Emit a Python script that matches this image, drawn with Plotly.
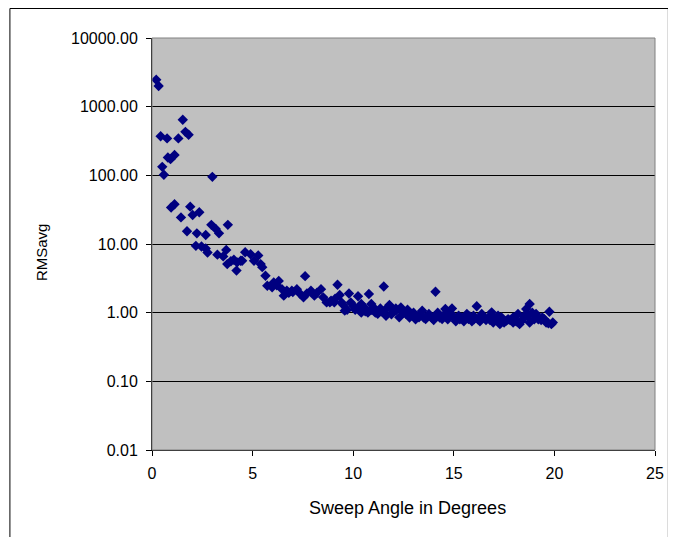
import plotly.graph_objects as go

sweep_angle = [
    0.21, 0.33, 0.43, 0.51, 0.59, 0.75, 0.79, 0.92, 0.95, 1.12, 1.12, 1.31, 1.44, 1.53, 1.66,
    1.74, 1.82, 1.90, 2.02, 2.18, 2.23, 2.35, 2.46, 2.67, 2.67, 2.76, 2.95, 3.00, 3.17, 3.25,
    3.33, 3.54, 3.69, 3.74, 3.77, 3.92, 4.07, 4.20, 4.23, 4.41, 4.48, 4.63, 4.90, 5.07, 5.28,
    5.40, 5.48, 5.64, 5.73, 5.97, 6.05, 6.20, 6.30, 6.46, 6.55, 6.70, 6.80, 6.95, 7.00, 7.20,
    7.37, 7.53, 7.61, 7.70, 7.90, 8.07, 8.20, 8.40, 8.51, 8.68, 8.84, 8.90, 9.06, 9.10, 9.22,
    9.33, 9.42, 9.50, 9.58, 9.70, 9.79, 9.88, 10.00, 10.10, 10.24, 10.30, 10.40, 10.40, 10.56,
    10.60, 10.73, 10.78, 10.90, 10.90, 11.06, 11.10, 11.22, 11.35, 11.40, 11.52, 11.63, 11.63,
    11.80, 11.90, 11.96, 12.00, 12.12, 12.12, 12.29, 12.37, 12.50, 12.62, 12.70, 12.80, 12.94,
    13.00, 13.10, 13.27, 13.30, 13.43, 13.50, 13.60, 13.76, 13.90, 14.00, 14.09, 14.09, 14.20,
    14.30, 14.42, 14.50, 14.58, 14.70, 14.75, 14.80, 14.91, 15.00, 15.07, 15.10, 15.24, 15.30,
    15.40, 15.50, 15.65, 15.73, 15.80, 15.90, 15.98, 16.00, 16.14, 16.20, 16.30, 16.39, 16.50,
    16.60, 16.72, 16.80, 16.88, 16.96, 17.00, 17.10, 17.20, 17.29, 17.37, 17.50, 17.62, 17.70,
    17.80, 17.95, 17.95, 18.00, 18.10, 18.19, 18.27, 18.35, 18.44, 18.50, 18.60, 18.70, 18.77,
    18.77, 18.90, 19.00, 19.09, 19.20, 19.34, 19.40, 19.50, 19.59, 19.70, 19.75, 19.85, 19.92,
]
rms_avg = [
    2460, 2000, 370, 133, 102, 345, 182, 172, 34, 198, 38, 345, 24.4, 645, 430,
    15.3, 390, 35, 26.5, 9.4, 14.3, 29, 9.2, 13.5, 8.6, 7.5, 19, 95, 16.6, 7.0,
    14.3, 6.6, 8.2, 5.1, 19, 5.6, 5.9, 4.1, 5.4, 5.7, 5.7, 7.6, 7.1, 5.7, 6.8,
    5.1, 4.6, 3.45, 2.47, 2.34, 2.76, 2.5, 2.9, 2.2, 1.77, 2.09, 1.95, 2.09, 2.0, 2.2,
    1.87, 1.67, 3.4, 1.9, 2.09, 1.77, 1.95, 2.2, 1.67, 1.41, 1.41, 1.5, 1.41, 1.6, 2.55,
    1.81, 1.41, 1.3, 1.07, 1.1, 1.9, 1.41, 1.26, 1.1, 1.73, 1.2, 1.34, 1.0, 1.19,
    1.05, 1.0, 1.87, 1.34, 1.1, 1.15, 1.0, 0.96, 1.15, 1.05, 2.4, 1.13, 0.90,
    1.29, 0.95, 1.01, 1.1, 1.15, 1.07, 0.855, 1.19, 1.0, 0.96, 1.1, 0.85, 0.9,
    1.0, 0.8, 0.855, 0.95, 1.07, 0.85, 0.81, 0.96, 0.85, 0.78, 2.02, 0.9, 1.0,
    0.85, 0.81, 0.92, 1.13, 0.8, 0.9, 1.0, 1.15, 0.88, 0.81, 0.75, 0.9, 0.8,
    0.85, 0.75, 0.96, 0.81, 0.88, 0.75, 0.9, 0.8, 1.24, 0.8, 0.75, 0.96, 0.85,
    0.78, 0.855, 0.78, 1.01, 0.72, 0.85, 0.8, 0.9, 0.68, 0.855, 0.72, 0.765, 0.8,
    0.78, 0.855, 0.72, 0.8, 0.75, 0.96, 0.68, 0.75, 0.81, 0.9, 1.13, 0.9, 1.34,
    0.72, 1.0, 0.8, 0.96, 0.8, 0.78, 0.85, 0.8, 0.72, 0.7, 1.03, 0.68, 0.72,
]

y_tick_vals = [0.01, 0.1, 1, 10, 100, 1000, 10000]
y_tick_text = ["0.01", "0.10", "1.00", "10.00", "100.00", "1000.00", "10000.00"]
x_tick_vals = [0, 5, 10, 15, 20, 25]
x_title = "Sweep Angle in Degrees"
y_title = "RMSavg"

# page offset of 8px (body margin) is compensated here
W, H = 668, 529
L, T = 144, 30
PW, PH = 508, 412
R, B = W - L - PW, H - T - PH

def px_x(px):
    return (px - L) / PW

def px_y(py):
    return (T + PH - py) / PH

fig = go.Figure()
fig.add_trace(go.Scatter(
    x=sweep_angle, y=rms_avg, mode="markers",
    marker=dict(symbol="diamond", size=8, color="#000080", line=dict(width=0)),
    showlegend=False,
))

fam = "Liberation Sans, Arial, sans-serif"
fig.update_layout(
    width=W, height=H,
    margin=dict(l=L, r=R, t=T, b=B, pad=0),
    paper_bgcolor="white",
    plot_bgcolor="#C0C0C0",
    font=dict(family=fam, size=16, color="black"),
    xaxis=dict(
        range=[0, 25], tickvals=x_tick_vals, ticks="outside", ticklen=5, tickcolor="black",
        showline=True, linecolor="black", linewidth=1, showgrid=False, zeroline=False,
        tickfont=dict(size=16), ticklabelstandoff=4,
    ),
    yaxis=dict(
        type="log", range=[-2, 4], tickvals=y_tick_vals, ticktext=y_tick_text,
        ticks="outside", ticklen=5, tickcolor="black",
        showline=True, linecolor="black", linewidth=1,
        showgrid=True, gridcolor="black", gridwidth=1, zeroline=False,
        tickfont=dict(size=16), ticklabelstandoff=5,
    ),
    annotations=[
        dict(text=x_title, xref="paper", yref="paper", x=px_x(402), y=px_y(500),
             showarrow=False, font=dict(size=18), xanchor="center", yanchor="middle"),
        dict(text=y_title, xref="paper", yref="paper", x=px_x(32), y=px_y(244),
             showarrow=False, font=dict(size=15), textangle=-90,
             xanchor="center", yanchor="middle"),
    ],
    shapes=[
        dict(type="rect", xref="paper", yref="paper", x0=0, x1=1, y0=0, y1=1,
             line=dict(color="#808080", width=1), layer="above"),
        dict(type="rect", xref="paper", yref="paper",
             x0=px_x(0.5), x1=px_x(665.5), y0=px_y(540), y1=px_y(0.5),
             line=dict(color="black", width=1), layer="below"),
    ],
)

fig.write_html("out.html")
